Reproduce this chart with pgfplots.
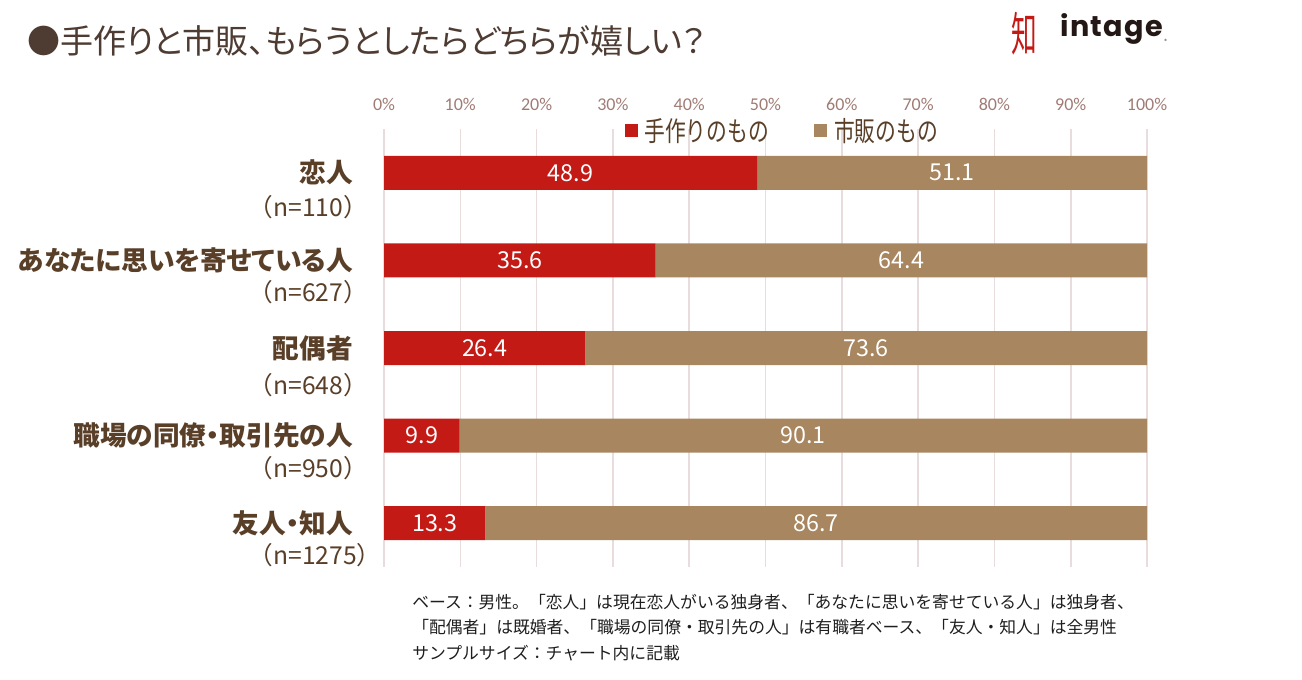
\documentclass[border=0pt]{standalone}
\usepackage{pgfplots}
\pgfplotsset{compat=1.18}
\usepackage{pgfplotstable}
\usepackage{fontspec}
\setmainfont{Noto Sans CJK JP}
\newfontfamily\jp{Noto Sans CJK JP}
\newfontfamily\jppalt[RawFeature=+palt]{Noto Sans CJK JP}
\newfontfamily\jpleg[FakeStretch=0.76]{Noto Sans CJK JP}
\newfontfamily\tickf{Carlito}
\newfontfamily\logof[LetterSpace=5]{Poppins}
\newfontfamily\logosym[FakeStretch=0.55]{Noto Sans CJK JP}

\definecolor{redc}{HTML}{C41A16}
\definecolor{tanc}{HTML}{A8865F}
\definecolor{gridc}{HTML}{E8DCDC}
\definecolor{tickc}{HTML}{A07B74}
\definecolor{labc}{HTML}{5A3F28}
\definecolor{titlec}{HTML}{4E3B32}
\definecolor{footc}{HTML}{1E1E1E}
\definecolor{logoc}{HTML}{231815}

\pgfplotstableread{
idx hand shop
1 48.9 51.1
2 35.6 64.4
3 26.4 73.6
4 9.9 90.1
5 13.3 86.7
}\data

\begin{document}
\begin{tikzpicture}
\path[use as bounding box] (0pt,0pt) rectangle (976.5pt,-510pt);

% title
\node[anchor=west, inner sep=0pt, text=titlec, font=\jppalt\fontsize{24.75pt}{30pt}\selectfont] at (20.25pt,-30.75pt) {●手作りと市販、もらうとしたらどちらが嬉しい？};

% logo
\node[inner sep=0pt, text=redc, font=\logosym\fontsize{35pt}{40pt}\selectfont] at (768pt,-25.5pt) {知};
\node[anchor=base west, inner sep=0pt, text=logoc, font=\logof\bfseries\fontsize{21.5pt}{24pt}\selectfont] at (795pt,-27.75pt) {intage};
\node[anchor=base west, inner sep=0pt, text=logoc, font=\jp\fontsize{4pt}{5pt}\selectfont] at (873pt,-33pt) {®};

\begin{axis}[
  at={(288pt,-425.25pt)}, anchor=south west,
  scale only axis, width=572.25pt, height=328.5pt,
  clip=false,
  xbar stacked, bar width=25.5pt,
  xmin=0, xmax=100, ymin=0.5, ymax=5.5, y dir=reverse,
  xtick={0,10,...,100},
  xticklabels={0\%,10\%,20\%,30\%,40\%,50\%,60\%,70\%,80\%,90\%,100\%},
  xticklabel pos=top,
  xticklabel style={anchor=center, yshift=18.75pt, text=tickc, font=\tickf\fontsize{13.5pt}{16pt}\selectfont},
  xmajorgrids, grid style={draw=gridc, line width=1.2pt},
  axis line style={draw=none}, tick style={draw=none},
  ytick={1,2,3,4,5},
  yticklabels={恋人,あなたに思いを寄せている人,配偶者,職場の同僚・取引先の人,友人・知人},
  yticklabel style={anchor=east, inner sep=0pt, xshift=-23.25pt, text=labc, font=\jppalt\bfseries\fontsize{20pt}{24pt}\selectfont},
  point meta=explicit,
  /pgf/number format/assume math mode=true,
  nodes near coords={\pgfmathprintnumber[fixed,fixed zerofill,precision=1]{\pgfplotspointmeta}},
  every node near coord/.append style={anchor=center, text=white, font=\jp\fontsize{17.5pt}{21pt}\selectfont},
  legend columns=2,
  legend style={at={(0.5216,0.996)}, anchor=center, draw=none, fill=none,
    font=\jpleg\fontsize{20.5pt}{24pt}\selectfont, text=labc,
    /tikz/every even column/.append style={column sep=33pt},
    /tikz/every odd column/.append style={column sep=4pt},
    nodes={inner sep=1pt}},
  legend image code/.code={\fill[#1, draw=none] (0pt,-4.5pt) rectangle (9.75pt,5.25pt);},
]
\addplot[fill=redc, draw=none] table[x=hand, y=idx, meta=hand] {\data};
\addlegendentry{手作りのもの}
\addplot[fill=tanc, draw=none] table[x=shop, y=idx, meta=shop] {\data};
\addlegendentry{市販のもの}

\node[anchor=west, inner sep=0pt, xshift=-101.7pt, text=labc, font=\jp\fontsize{18.5pt}{21pt}\selectfont] at (axis cs:0,1.389) {（n=110）};
\node[anchor=west, inner sep=0pt, xshift=-101.7pt, text=labc, font=\jp\fontsize{18.5pt}{21pt}\selectfont] at (axis cs:0,2.36) {（n=627）};
\node[anchor=west, inner sep=0pt, xshift=-101.7pt, text=labc, font=\jp\fontsize{18.5pt}{21pt}\selectfont] at (axis cs:0,3.42) {（n=648）};
\node[anchor=west, inner sep=0pt, xshift=-101.7pt, text=labc, font=\jp\fontsize{18.5pt}{21pt}\selectfont] at (axis cs:0,4.37) {（n=950）};
\node[anchor=west, inner sep=0pt, xshift=-101.7pt, text=labc, font=\jp\fontsize{18.5pt}{21pt}\selectfont] at (axis cs:0,5.37) {（n=1275）};
\end{axis}

% footnote
\node[anchor=north west, inner sep=0pt, align=left, text=footc, font=\jp\fontsize{12.6pt}{19.1pt}\selectfont] at (309pt,-445.5pt) {ベース：男性。「恋人」は現在恋人がいる独身者、「あなたに思いを寄せている人」は独身者、\\「配偶者」は既婚者、「職場の同僚・取引先の人」は有職者ベース、「友人・知人」は全男性\\サンプルサイズ：チャート内に記載};
\end{tikzpicture}
\end{document}
